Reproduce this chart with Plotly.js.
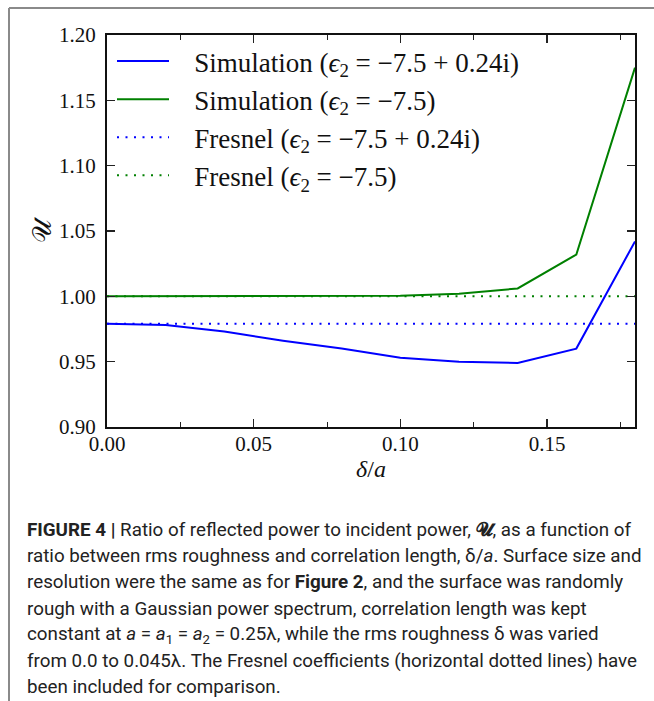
<!DOCTYPE html>
<html>
<head>
<meta charset="utf-8">
<script src="https://cdn.plot.ly/plotly-3.0.1.min.js"></script>
<style>html,body{margin:0;padding:0;background:#fff;}#chart{width:654px;height:701px;}</style>
</head>
<body>
<div id="chart"></div>
<script>
// Data
const ratio = [0.00, 0.02, 0.04, 0.06, 0.08, 0.10, 0.12, 0.14, 0.16, 0.18];
const simLossy = [0.979, 0.978, 0.973, 0.966, 0.960, 0.953, 0.950, 0.949, 0.960, 1.042];
const simLossless = [1.000, 1.000, 1.000, 1.000, 1.000, 1.0005, 1.002, 1.006, 1.032, 1.175];
const fresnelX = [0.00, 0.18];
const fresnelLossy = [0.979, 0.979];
const fresnelLossless = [1.000, 1.000];
const xTicks = [0.00, 0.05, 0.10, 0.15];
const yTicks = [0.90, 0.95, 1.00, 1.05, 1.10, 1.15, 1.20];
const legendNames = [
  'Simulation (<i>ϵ</i><sub>2</sub> = −7.5 + 0.24i)',
  'Simulation (<i>ϵ</i><sub>2</sub> = −7.5)',
  'Fresnel (<i>ϵ</i><sub>2</sub> = −7.5 + 0.24i)',
  'Fresnel (<i>ϵ</i><sub>2</sub> = −7.5)'
];
const captionLines = [
  '<b>FIGURE 4 |</b> Ratio of reflected power to incident power, <b>𝓤</b>, as a function of',
  'ratio between rms roughness and correlation length, δ/<i>a</i>. Surface size and',
  'resolution were the same as for <b>Figure 2</b>, and the surface was randomly',
  'rough with a Gaussian power spectrum, correlation length was kept',
  'constant at <i>a</i> = <i>a</i><sub>1</sub> = <i>a</i><sub>2</sub> = 0.25λ, while the rms roughness δ was varied',
  'from 0.0 to 0.045λ. The Fresnel coefficients (horizontal dotted lines) have',
  'been included for comparison.'
];

const BLUE = '#0000ff', GREEN = '#008000';
const SERIF = '"Liberation Serif", "DejaVu Serif", serif';
const SANS = 'Roboto, "Liberation Sans", sans-serif';
const GAP = '\u00a0\u00a0\u00a0';

const traces = [
  {x: ratio, y: simLossy, name: GAP + legendNames[0], mode: 'lines', line: {color: BLUE, width: 2}, legendgroup: 'a'},
  {x: ratio, y: simLossless, name: GAP + legendNames[1], mode: 'lines', line: {color: GREEN, width: 2}, legendgroup: 'b'},
  {x: fresnelX, y: fresnelLossy, name: GAP + legendNames[2], mode: 'lines', line: {color: BLUE, width: 2, dash: '2px,6.5px'}, legendgroup: 'c'},
  {x: fresnelX, y: fresnelLossless, name: GAP + legendNames[3], mode: 'lines', line: {color: GREEN, width: 2, dash: '2px,6.5px'}, legendgroup: 'd'}
];

// plot area geometry (px) used for paper-coordinate annotations
const L = 107, R = 635, T = 35, B = 427, W = 654, H = 701;
const px2x = p => (p - L) / (R - L);
const py2y = p => (B - p) / (B - T);

const annotations = captionLines.map((t, i) => ({
  xref: 'paper', yref: 'paper', x: px2x(25), y: py2y(530 + i * 26.2),
  xanchor: 'left', yanchor: 'middle', showarrow: false, align: 'left',
  text: t, font: {family: SANS, size: 18.8, color: '#222'}
}));

const layout = {
  width: W, height: H,
  margin: {l: L, r: W - R, t: T, b: H - B, pad: 0},
  paper_bgcolor: '#fff', plot_bgcolor: '#fff',
  showlegend: true,
  legend: {x: px2x(112), y: py2y(37), xanchor: 'left', yanchor: 'top', bgcolor: 'rgba(0,0,0,0)',
           font: {family: SERIF, size: 27, color: '#111'}, traceorder: 'grouped', tracegroupgap: 0, itemwidth: 52},
  xaxis: {range: [0, 0.18], tickvals: xTicks, tickformat: '.2f', ticks: 'inside', ticklen: 8, tickwidth: 1.2,
          tickcolor: '#222', showline: true, linewidth: 2, linecolor: '#111', mirror: 'ticks', showgrid: false, zeroline: false,
          minor: {dtick: 0.025, tick0: 0, ticks: 'inside', ticklen: 5, tickwidth: 1, tickcolor: '#222', showgrid: false},
          tickfont: {family: SERIF, size: 21, color: '#111'}, ticklabelstandoff: -3,
          title: {text: '<i>δ</i>/<i>a</i>', font: {family: SERIF, size: 24, color: '#111'}, standoff: 0}},
  yaxis: {range: [0.90, 1.20], tickvals: yTicks, tickformat: '.2f', ticks: 'inside', ticklen: 8, tickwidth: 1.2,
          tickcolor: '#222', showline: true, linewidth: 2, linecolor: '#111', mirror: 'ticks', showgrid: false, zeroline: false,
          tickfont: {family: SERIF, size: 21, color: '#111'}, ticklabelstandoff: 5,
          title: {text: '𝒰', font: {family: SERIF, size: 26, color: '#111'}, standoff: 0}},
  annotations: annotations,
  shapes: [
    {type: 'line', xref: 'paper', yref: 'paper', x0: px2x(9), x1: px2x(9), y0: py2y(8), y1: py2y(701), line: {color: '#8a8a8a', width: 2}},
    {type: 'line', xref: 'paper', yref: 'paper', x0: px2x(9), x1: px2x(654), y0: py2y(8), y1: py2y(8), line: {color: '#8a8a8a', width: 2}}
  ]
};

Plotly.newPlot('chart', traces, layout, {displayModeBar: false, staticPlot: true});
</script>
</body>
</html>
